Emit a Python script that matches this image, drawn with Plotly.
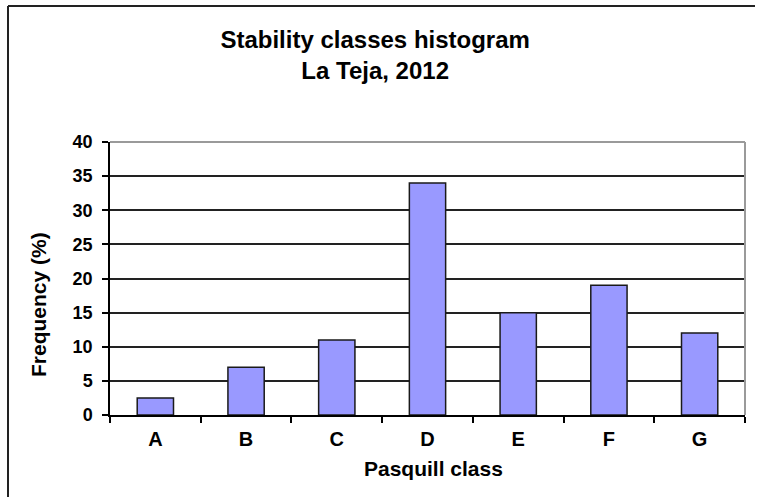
import plotly.graph_objects as go

categories = ["A", "B", "C", "D", "E", "F", "G"]
frequency = [2.5, 7, 11, 34, 15, 19, 12]
y_ticks = [0, 5, 10, 15, 20, 25, 30, 35, 40]

FONT = "Arial, Liberation Sans, sans-serif"

fig = go.Figure(go.Bar(
    x=categories, y=frequency,
    marker=dict(color="#9999FF", line=dict(color="#1a1a1a", width=1.5)),
    width=0.4,
))

L, R, T, B = 110, 16, 142, 82
W, H = 761, 497
pw, ph = W - L - R, H - T - B

def px_x(px):
    return (px - L) / pw

def px_y(py):
    return (H - B - py) / ph

fig.update_layout(
    width=W, height=H,
    margin=dict(l=L, r=R, t=T, b=B),
    paper_bgcolor="white", plot_bgcolor="white",
    showlegend=False,
    font=dict(family=FONT, color="black"),
    title=dict(
        text="<b>Stability classes histogram<br>La Teja, 2012</b>",
        x=0.493, xanchor="center", y=1 - 48 / H, yanchor="top", yref="container",
        font=dict(size=24, family=FONT, color="black"),
    ),
    xaxis=dict(
        type="category", tickson="boundaries", ticks="outside", ticklen=6,
        tickcolor="black", tickwidth=1.5,
        showline=True, linecolor="black", linewidth=1.5,
        showgrid=False,
        tickfont=dict(size=20, family=FONT, color="black", weight="bold"),
        ticklabelstandoff=5,
    ),
    yaxis=dict(
        range=[0, 40], tickvals=y_ticks, ticks="outside", ticklen=6,
        tickcolor="black", tickwidth=1.5,
        showline=True, linecolor="black", linewidth=1.5,
        showgrid=True, gridcolor="#222", gridwidth=1.5,
        zeroline=False,
        tickfont=dict(size=18, family=FONT, color="black", weight="bold"),
        ticklabelstandoff=6,
    ),
    shapes=[
        # gray plot border (top and right)
        dict(type="line", xref="paper", yref="paper", x0=0, x1=1, y0=1, y1=1,
             line=dict(color="#9a9a9a", width=2), layer="above"),
        dict(type="line", xref="paper", yref="paper", x0=1, x1=1, y0=0, y1=1,
             line=dict(color="#9a9a9a", width=2), layer="above"),
        # outer chart frame (left and top edges)
        dict(type="line", xref="paper", yref="paper", x0=px_x(8), x1=px_x(8),
             y0=px_y(6), y1=px_y(510), line=dict(color="#222", width=2)),
        dict(type="line", xref="paper", yref="paper", x0=px_x(8), x1=px_x(755),
             y0=px_y(6), y1=px_y(6), line=dict(color="#222", width=2)),
    ],
    annotations=[
        dict(text="<b>Frequency (%)</b>", xref="paper", yref="paper",
             x=px_x(38), y=px_y(305), textangle=-90, showarrow=False,
             xanchor="center", yanchor="middle",
             font=dict(size=21, family=FONT, color="black")),
        dict(text="<b>Pasquill class</b>", xref="paper", yref="paper",
             x=px_x(433), y=px_y(468), showarrow=False,
             xanchor="center", yanchor="middle",
             font=dict(size=21, family=FONT, color="black")),
    ],
)

fig.write_html(
    "out.html",
    config={"displayModeBar": False},
    post_script="document.body.style.margin='0';document.body.style.overflow='hidden';",
)
